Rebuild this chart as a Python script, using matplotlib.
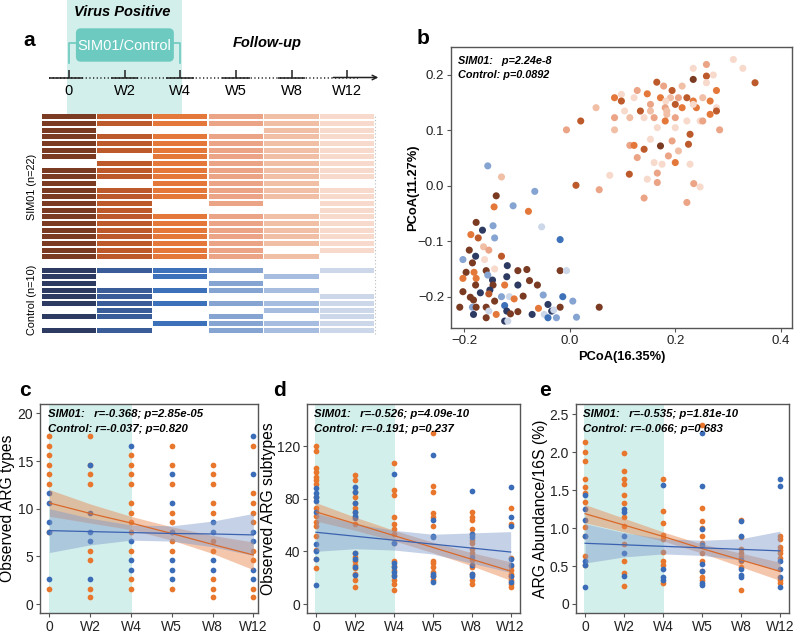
import matplotlib.pyplot as plt
import numpy as np
from matplotlib.patches import FancyBboxPatch

plt.rcParams["font.family"] = ["Liberation Sans", "DejaVu Sans"]

W, H = 800, 635

TIMES = ["0", "W2", "W4", "W5", "W8", "W12"]
WEEK_IDX = {"0": 0, "2": 1, "4": 2, "5": 3, "8": 4, "12": 5}
SIM_COLORS = ["#7a3b22", "#bd5a2b", "#e4783a", "#eba486", "#f0bfa6", "#f7dacc"]
CTL_COLORS = ["#2d3a62", "#3a5c99", "#3d72ba", "#86a4d2", "#a6bde0", "#cdd7ea"]
TEAL = "#6dcac0"
TEAL_LIGHT = "#d3efeb"
ORANGE = "#e8762d"
BLUE = "#3a6cb8"

# panel a: sample collected (1) or missing (0) at each time point
sim01_present = [
    [1, 1, 1, 1, 1, 1], [1, 1, 1, 1, 1, 1], [1, 0, 0, 0, 1, 1], [1, 1, 1, 1, 1, 1],
    [1, 1, 1, 1, 1, 1], [1, 1, 1, 1, 1, 1], [1, 0, 1, 1, 1, 1], [0, 1, 1, 1, 1, 1],
    [1, 1, 1, 1, 1, 1], [1, 1, 1, 1, 1, 1], [1, 0, 1, 1, 1, 0], [1, 1, 1, 1, 1, 1],
    [1, 1, 1, 1, 1, 1], [1, 1, 0, 1, 0, 1], [1, 1, 0, 0, 0, 1], [1, 1, 1, 1, 1, 1],
    [1, 1, 1, 1, 1, 1], [1, 1, 1, 1, 1, 1], [1, 1, 1, 1, 1, 1], [1, 1, 1, 1, 1, 1],
    [1, 1, 1, 1, 0, 1], [1, 1, 1, 1, 1, 0],
]
control_present = [
    [1, 1, 1, 1, 0, 1], [1, 0, 1, 0, 1, 0], [1, 0, 0, 1, 0, 0], [1, 1, 1, 1, 1, 0],
    [1, 1, 0, 0, 0, 1], [1, 1, 1, 1, 1, 1], [0, 1, 0, 0, 1, 1], [1, 1, 0, 1, 0, 1],
    [0, 0, 1, 1, 1, 1], [1, 1, 0, 1, 1, 1],
]

# panel b: PCoA coordinates; group = cohort (S/C) + week
pcoa_x = [
    0.310, 0.328, 0.351, 0.259, 0.234, 0.272, 0.259, 0.234, 0.259, 0.165, 0.178, 0.194,
    0.213, 0.278, 0.128, 0.147, 0.085, 0.098, 0.098, 0.122, 0.172, 0.191, 0.206, 0.222,
    0.234, 0.252, 0.266, 0.153, 0.182, 0.200, 0.181, 0.213, 0.240, 0.234, 0.278, 0.278,
    0.266, 0.050, 0.104, 0.134, 0.153, 0.184, 0.085, 0.114, 0.141, 0.160, 0.184, 0.181,
    0.200, 0.222, 0.247, 0.252, 0.021, -0.006, 0.085, 0.166, 0.200, 0.284, 0.228, 0.153,
    0.194, 0.114, 0.122, 0.141, 0.172, 0.225, 0.206, 0.187, 0.128, 0.160, 0.175, 0.200,
    0.228, -0.155,
    -0.129, 0.012, 0.056, 0.076, 0.113, 0.147, 0.166, 0.166, 0.235, 0.247, 0.141, 0.222,
    -0.139, -0.066, -0.107, -0.143, -0.078, -0.177, -0.165, -0.145, -0.053, -0.187, -0.173,
    -0.142, -0.018, -0.190, -0.163, -0.153, -0.202, -0.178, -0.161, -0.129, -0.184, -0.118,
    -0.142, -0.196, -0.181, -0.158, -0.155, -0.098, -0.081, -0.018, -0.006, -0.202, -0.177,
    -0.119, -0.146, -0.076, -0.178, -0.145, -0.123, -0.098, -0.061, -0.202, -0.169, -0.151,
    -0.153, -0.188, -0.182, -0.129, -0.114, -0.105, -0.088, -0.050, -0.013, 0.006, -0.142,
    -0.208, -0.184, -0.177, -0.158, -0.123, -0.041, -0.059, -0.018, 0.056, -0.153, -0.119,
    -0.034, -0.030, -0.182, -0.158, -0.139, -0.112, -0.098, -0.071, -0.048, -0.041, -0.025,
    0.013, -0.123, -0.117,
]
pcoa_y = [
    0.228, 0.212, 0.186, 0.219, 0.212, 0.200, 0.198, 0.192, 0.186, 0.187, 0.180, 0.172,
    0.180, 0.172, 0.172, 0.166, 0.159, 0.165, 0.153, 0.159, 0.159, 0.159, 0.159, 0.159,
    0.153, 0.159, 0.153, 0.147, 0.153, 0.147, 0.141, 0.141, 0.141, 0.147, 0.141, 0.135,
    0.129, 0.141, 0.135, 0.135, 0.135, 0.135, 0.123, 0.123, 0.123, 0.123, 0.129, 0.117,
    0.123, 0.117, 0.117, 0.117, 0.117, 0.101, 0.101, 0.105, 0.105, 0.101, 0.093, 0.084,
    0.081, 0.073, 0.073, 0.066, 0.072, 0.075, 0.063, 0.054, 0.051, 0.042, 0.039, 0.042,
    0.039, 0.036,
    0.016, 0.001, -0.007, 0.019, 0.021, 0.012, 0.023, 0.006, 0.004, -0.002, -0.022, -0.030,
    -0.018, -0.010, -0.036, -0.038, -0.046, -0.066, -0.080, -0.072, -0.074, -0.088, -0.094,
    -0.094, -0.097, -0.116, -0.110, -0.116, -0.133, -0.127, -0.133, -0.127, -0.139, -0.144,
    -0.150, -0.156, -0.156, -0.153, -0.161, -0.153, -0.151, -0.153, -0.153, -0.167, -0.167,
    -0.164, -0.170, -0.171, -0.179, -0.179, -0.179, -0.179, -0.179, -0.191, -0.193, -0.188,
    -0.195, -0.201, -0.206, -0.200, -0.200, -0.204, -0.199, -0.197, -0.200, -0.208, -0.208,
    -0.219, -0.219, -0.219, -0.219, -0.216, -0.214, -0.221, -0.219, -0.219, -0.226, -0.226,
    -0.226, -0.224, -0.232, -0.238, -0.232, -0.231, -0.227, -0.232, -0.232, -0.238, -0.238,
    -0.237, -0.244, -0.244,
]
pcoa_grp = [
    "S12", "S12", "S2", "S5", "S12", "S12", "S2", "S0", "S12", "S2", "S5", "S2",
    "S8", "S4", "S5", "S4", "S4", "S12", "S2", "S12", "S4", "S8", "S5", "S2",
    "S4", "S8", "S4", "S5", "S12", "S2", "S5", "S4", "S4", "S12", "S12", "S2",
    "S4", "S8", "S12", "S2", "S8", "S8", "S5", "S8", "S12", "S5", "S8", "S4",
    "S5", "S12", "S12", "S5", "S2", "S5", "S8", "S12", "S12", "S5", "S2", "S12",
    "S5", "S5", "S4", "S2", "S0", "S2", "S8", "S5", "S5", "S12", "S12", "S4",
    "S12", "C5",
    "S8", "S2", "S5", "S12", "S2", "S12", "S5", "S5", "S5", "S12", "S5", "S5",
    "S0", "C5", "C5", "S4", "S4", "S0", "C0", "C5", "C12", "S4", "S2",
    "C5", "C4", "S0", "S8", "S5", "C5", "C0", "S12", "S2", "S0", "C0",
    "S12", "S0", "S4", "S0", "C5", "S0", "S0", "S0", "C12", "S4", "S4",
    "C0", "C0", "S0", "S0", "S0", "S4", "C0", "S0", "S0", "C0", "C0",
    "S2", "S0", "S0", "C5", "C12", "S4", "S0", "C5", "C4", "C5", "S0",
    "S0", "C5", "S0", "S0", "C4", "C0", "S4", "S0", "S0", "C12", "C0",
    "C0", "C12", "C0", "S0", "S4", "S0", "S0", "C0", "C12", "C4", "C5",
    "C5", "C0", "C12",
]

# panel c: observed ARG types per time point
c_sim = [
    [17.6, 16.6, 15.6, 14.6, 13.6, 12.6, 7.6, 1.6],
    [17.6, 14.6, 13.6, 12.6, 5.6, 4.6, 1.6, 0.7],
    [15.6, 14.6, 13.6, 12.6, 10.6, 9.6, 8.6, 7.6, 5.6, 2.6, 1.6],
    [16.6, 14.6, 12.6, 9.6, 8.6, 7.6, 6.6, 5.6, 1.6],
    [14.6, 13.6, 12.6, 10.6, 9.6, 6.6, 5.6, 2.6, 1.6, 0.7],
    [16.6, 11.6, 10.6, 9.6, 8.6, 5.6, 4.6, 1.6, 0.7],
]
c_ctl = [
    [11.6, 10.6, 8.6, 7.6, 2.6],
    [14.6, 9.6, 7.6, 6.6, 2.6],
    [16.6, 6.6, 4.6, 3.6],
    [13.6, 10.6, 7.6, 4.6, 3.6, 2.6],
    [8.6, 7.6, 4.6, 3.6],
    [17.6, 13.6, 7.6, 6.6, 3.6, 2.6],
]
c_sim_line = [10.6, 9.5, 8.5, 7.4, 6.25, 5.15]
c_sim_lo = [9.2, 8.5, 7.8, 6.7, 5.3, 3.6]
c_sim_hi = [12.0, 10.5, 9.2, 8.1, 7.2, 6.5]
c_ctl_line = [7.7, 7.6, 7.5, 7.4, 7.35, 7.25]
c_ctl_lo = [5.4, 6.2, 6.7, 6.6, 6.0, 5.1]
c_ctl_hi = [10.0, 9.0, 8.3, 8.2, 8.7, 9.5]

# panel d: observed ARG subtypes
d_sim = [
    [120, 116, 103.5, 100, 96.7, 94, 91, 81, 73, 67, 62, 59, 52, 41, 34, 27],
    [98, 94, 85, 81, 77, 73, 70, 66, 61, 39, 36, 33, 30, 27, 23, 18, 13],
    [107, 86.6, 82.5, 66, 61, 57, 53, 46, 33, 29, 26, 22, 18, 15, 11],
    [130, 89.6, 85, 69, 66, 59, 33, 31, 28, 24.6, 21, 18],
    [70, 66, 64, 57, 53, 49, 46, 42, 38.5, 33.4, 28, 23, 18, 15],
    [73, 61, 35, 29, 26, 23, 21, 18, 15, 13],
]
d_ctl = [
    [88, 84.5, 81, 78, 70, 45.6, 40, 34, 14.7],
    [89, 85, 76.5, 70, 67, 65, 38.5, 34, 28, 22],
    [98.5, 46, 31, 28, 24.6, 21],
    [113, 64, 52, 50.6, 23, 21, 16.7],
    [86, 53, 51, 36, 30, 23, 21],
    [89, 66, 59.5, 34, 29.6, 21, 17],
]
d_sim_line = [70, 61, 52, 43, 34, 25]
d_sim_lo = [63, 56, 48, 39, 29, 18]
d_sim_hi = [77, 66, 56, 47, 39, 32]
d_ctl_line = [54.5, 51.5, 48.5, 45.5, 42.5, 39.5]
d_ctl_lo = [40, 42, 41, 38, 31, 24]
d_ctl_hi = [69, 61, 56, 53, 54, 55]

# panel e: ARG abundance / 16S (%)
e_sim = [
    [2.13, 2.0, 1.89, 1.65, 1.54, 1.46, 1.34, 1.02, 0.9, 0.63, 0.51],
    [1.99, 1.75, 1.65, 1.58, 1.43, 1.33, 1.15, 1.03, 0.79, 0.57, 0.41, 0.24],
    [1.65, 1.22, 1.07, 0.91, 0.86, 0.68, 0.56, 0.51, 0.27],
    [2.36, 1.26, 1.1, 1.0, 0.89, 0.8, 0.67, 0.56, 0.43, 0.36, 0.32],
    [1.11, 0.88, 0.73, 0.67, 0.62, 0.56, 0.49, 0.18],
    [0.89, 0.85, 0.75, 0.71, 0.67, 0.6, 0.32, 0.27],
]
e_ctl = [
    [1.44, 1.25, 1.11, 0.89, 0.57, 0.51, 0.23],
    [1.25, 1.21, 0.89, 0.67, 0.37],
    [1.57, 0.46, 0.36, 0.32],
    [2.25, 1.55, 0.99, 0.78, 0.53, 0.43, 0.28, 0.25],
    [1.1, 0.89, 0.58, 0.46, 0.38, 0.35],
    [1.65, 1.55, 0.56, 0.46, 0.36, 0.23],
]
e_sim_line = [1.19, 1.04, 0.89, 0.73, 0.58, 0.43]
e_sim_lo = [1.07, 0.95, 0.83, 0.67, 0.49, 0.31]
e_sim_hi = [1.31, 1.13, 0.95, 0.79, 0.67, 0.55]
e_ctl_line = [0.80, 0.78, 0.76, 0.74, 0.72, 0.70]
e_ctl_lo = [0.54, 0.62, 0.66, 0.64, 0.58, 0.44]
e_ctl_hi = [1.06, 0.94, 0.86, 0.84, 0.86, 0.96]


def px_axes(fig, left, top, right, bottom):
    return fig.add_axes([left / W, 1 - bottom / H, (right - left) / W, (bottom - top) / H])


def style(ax, fs):
    for s in ax.spines.values():
        s.set_color("#555555")
        s.set_linewidth(1.0)
    ax.tick_params(direction="out", length=3, width=0.8, color="#555555",
                   labelsize=fs, pad=2, labelcolor="#222222")


def draw_trend(ax, sim, ctl, sim_fit, ctl_fit, xlim, ylim, yticks, yticklabels,
               ylabel, label_x, texts):
    ax.axvspan(-0.02, 2.02, color=TEAL_LIGHT, lw=0, zorder=0)
    for t, vals in enumerate(sim):
        ax.scatter([t] * len(vals), vals, s=17, color=ORANGE, lw=0, zorder=2)
    for t, vals in enumerate(ctl):
        ax.scatter([t] * len(vals), vals, s=17, color=BLUE, lw=0, zorder=2)
    xs = np.arange(len(TIMES))
    for (line, lo, hi), fc, lc in [(sim_fit, "#e8844a", "#d9692a"), (ctl_fit, "#7e9acb", "#3b62b0")]:
        ax.fill_between(xs, lo, hi, color=fc, alpha=0.45, lw=0, zorder=3)
        ax.plot(xs, line, color=lc, lw=0.9, zorder=4)
    ax.set_xlim(*xlim)
    ax.set_ylim(*ylim)
    ax.set_xticks(xs)
    ax.set_xticklabels(TIMES)
    ax.set_yticks(yticks)
    ax.set_yticklabels(yticklabels)
    ax.set_ylabel(ylabel, fontsize=11.3, va="center")
    ax.yaxis.set_label_coords(label_x, 0.5)
    for y, s in zip([0.952, 0.882], texts):
        ax.text(0.035, y, s, transform=ax.transAxes, fontsize=8.2, fontweight="bold",
                fontstyle="italic", va="center", zorder=6)
    style(ax, 10)


fig = plt.figure(figsize=(W / 100, H / 100), dpi=100)

# ---- panel a: timeline
ax_t = px_axes(fig, 41, 0, 375, 113.5)
ax_t.set_xlim(-0.5, 5.5)
ax_t.set_ylim(113.5, 0)
ax_t.axis("off")
ax_t.axvspan(-0.03, 2.03, color=TEAL_LIGHT, lw=0, zorder=0)
tx = np.arange(len(TIMES))
axis_y = 77.5
ax_t.plot([-0.36, 5.2], [axis_y, axis_y], color="#222222", lw=1.1,
          ls=(0, (0.8, 1.6)), clip_on=False)
for t in tx[:-1]:
    ax_t.plot([-0.36 if t == 0 else t - 0.25, t + 0.25], [axis_y, axis_y],
              color="#222222", lw=1.1, solid_capstyle="butt")
ax_t.annotate("", xy=(5.56, axis_y), xytext=(tx[-1] - 0.25, axis_y),
              arrowprops=dict(arrowstyle="->", lw=1.1, color="#222222",
                              shrinkA=0, shrinkB=0, mutation_scale=8),
              annotation_clip=False)
ax_t.vlines(tx, 69.5, axis_y, color="#222222", lw=1.1)
for t, lab in zip(tx, TIMES):
    ax_t.text(t, 91, lab, ha="center", va="center", fontsize=10.5)
ax_t.plot([0, 0, 2, 2], [63, 43, 43, 63], color=TEAL, lw=1.2)
ax_t.add_patch(FancyBboxPatch((0.127, 28.3), 1.76, 33.4,
                              boxstyle="round,pad=0,rounding_size=0.09",
                              mutation_aspect=55.7, fc=TEAL, ec="none", zorder=3))
ax_t.text(1.0, 45.5, "SIM01/Control", ha="center", va="center", color="white",
          fontsize=10.5, zorder=4)
ax_t.text(0.96, 12, "Virus Positive", ha="center", va="center", fontsize=10.5,
          fontweight="bold", fontstyle="italic")
ax_t.text(3.57, 43.5, "Follow-up", ha="center", va="center", fontsize=10.5,
          fontweight="bold", fontstyle="italic")

# ---- panel a: sampling grid
ax_h = px_axes(fig, 41, 113.5, 375, 333.5)
sim_arr = np.array(sim01_present)
ctl_arr = np.array(control_present)
rows_sim = np.arange(len(sim_arr))
rows_ctl = np.arange(len(ctl_arr)) + len(sim_arr) + 1
for j in range(len(TIMES)):
    keep = sim_arr[:, j] == 1
    ax_h.barh(rows_sim[keep], 0.972, left=j - 0.486, height=0.78, color=SIM_COLORS[j])
    keep = ctl_arr[:, j] == 1
    ax_h.barh(rows_ctl[keep], 0.972, left=j - 0.486, height=0.78, color=CTL_COLORS[j])
ax_h.set_xlim(-0.5, 5.5)
ax_h.set_ylim(rows_ctl[-1] + 0.5, -0.5)
ax_h.axis("off")
ax_h.axvline(5.5, color="#bbbbbb", lw=0.8, ls=(0, (1, 2)), clip_on=False)
ax_h.text(-0.653, rows_sim.mean(), "SIM01 (n=22)", rotation=90, ha="center",
          va="center", fontsize=7.8)
ax_h.text(-0.653, rows_ctl.mean(), "Control (n=10)", rotation=90, ha="center",
          va="center", fontsize=7.8)

# ---- panel b: PCoA
ax_b = px_axes(fig, 451, 47, 792, 328)
pt_cols = [(SIM_COLORS if g[0] == "S" else CTL_COLORS)[WEEK_IDX[g[1:]]] for g in pcoa_grp]
ax_b.scatter(pcoa_x, pcoa_y, c=pt_cols, s=26, lw=0, zorder=3)
ax_b.set_xlim(-0.2246, 0.421)
ax_b.set_ylim(-0.2565, 0.2505)
ax_b.set_xticks([-0.2, 0.0, 0.2, 0.4])
ax_b.set_yticks([-0.2, -0.1, 0.0, 0.1, 0.2])
ax_b.set_xlabel("PCoA(16.35%)", fontsize=9.3, fontweight="bold", va="center")
ax_b.xaxis.set_label_coords(0.5, -0.102)
ax_b.set_ylabel("PCoA(11.27%)", fontsize=9.3, fontweight="bold", va="center")
ax_b.yaxis.set_label_coords(-0.111, 0.5)
ax_b.text(0.0197, 0.950, "SIM01:   p=2.24e-8", transform=ax_b.transAxes, fontsize=7.8,
          fontweight="bold", fontstyle="italic", va="center")
ax_b.text(0.0197, 0.900, "Control: p=0.0892", transform=ax_b.transAxes, fontsize=7.8,
          fontweight="bold", fontstyle="italic", va="center")
style(ax_b, 9.5)

# ---- panels c, d, e
ax_c = px_axes(fig, 40, 404, 258, 613)
draw_trend(ax_c, c_sim, c_ctl, (c_sim_line, c_sim_lo, c_sim_hi),
           (c_ctl_line, c_ctl_lo, c_ctl_hi), (-0.23, 5.115), (-0.94, 20.98),
           [0, 5, 10, 15, 20], ["0", "5", "10", "15", "20"], "Observed ARG types", -0.148,
           ["SIM01:   r=-0.368; p=2.85e-05", "Control: r=-0.037; p=0.820"])

ax_d = px_axes(fig, 306.7, 404, 520, 613)
draw_trend(ax_d, d_sim, d_ctl, (d_sim_line, d_sim_lo, d_sim_hi),
           (d_ctl_line, d_ctl_lo, d_ctl_hi), (-0.24, 5.24), (-6.8, 151.9),
           [0, 40, 80, 120], ["0", "40", "80", "120"], "Observed ARG subtypes", -0.178,
           ["SIM01:   r=-0.526; p=4.09e-10", "Control: r=-0.191; p=0.237"])

ax_e = px_axes(fig, 575.7, 404, 789.3, 613)
draw_trend(ax_e, e_sim, e_ctl, (e_sim_line, e_sim_lo, e_sim_hi),
           (e_ctl_line, e_ctl_lo, e_ctl_hi), (-0.24, 5.24), (-0.119, 2.636),
           [0, 0.5, 1.0, 1.5, 2.0, 2.5], ["0", "0.5", "1.0", "1.5", "2.0", "2.5"],
           "ARG Abundance/16S (%)", -0.165,
           ["SIM01:   r=-0.535; p=1.81e-10", "Control: r=-0.066; p=0.683"])

# panel letters
for x, y, s in [(29, 40, "a"), (423, 38, "b"), (25, 390, "c"), (280, 390, "d"), (545, 390, "e")]:
    fig.text(x / W, 1 - y / H, s, fontsize=15, fontweight="bold", ha="center", va="center")

fig.savefig("out.png", dpi=100)
